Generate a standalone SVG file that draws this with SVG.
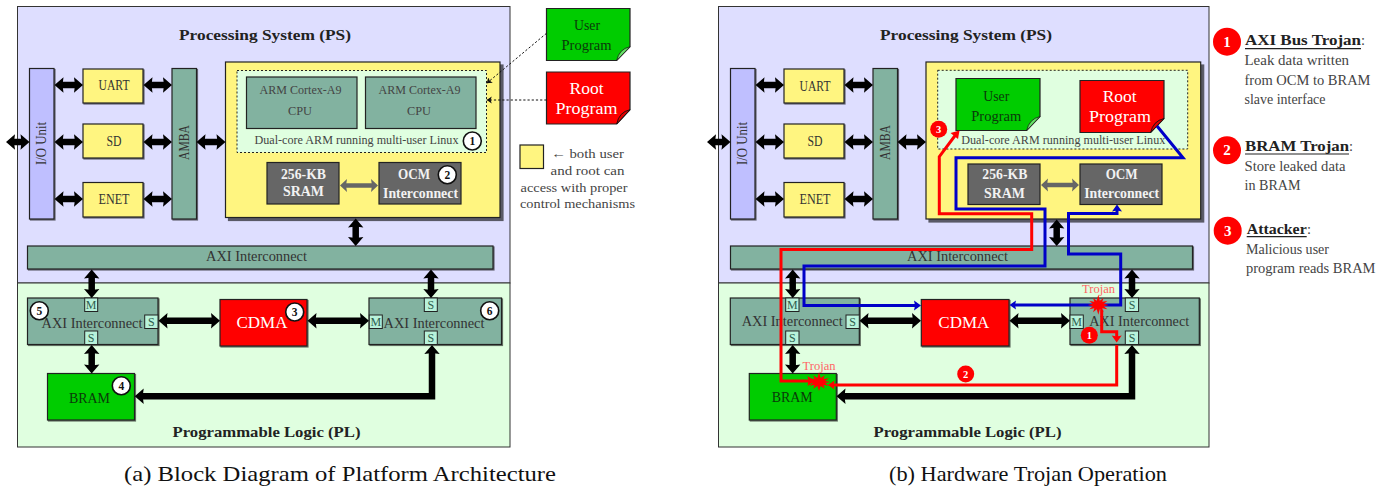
<svg xmlns="http://www.w3.org/2000/svg" xmlns:xlink="http://www.w3.org/1999/xlink" width="1388" height="489" viewBox="0 0 1388 489">
<style>
text{font-family:"Liberation Serif","DejaVu Serif",serif;fill:#333;font-size:14px;text-anchor:middle}
.h{font-weight:bold;font-size:15px;fill:#222}
.w{fill:#f2f2f2;font-weight:bold;font-size:14px}
.wl{fill:#fff;font-size:17px}
.d{fill:#0a3a0a;font-size:15.5px}
.g{font-size:13px;fill:#444}
.l{font-size:14.5px;fill:#444;text-anchor:start}
.lb{font-size:15px;font-weight:bold;fill:#222;text-anchor:start}
.cap{font-size:21.5px;fill:#111}
.tr{font-size:11.5px;fill:#ff6666}
.p{font-size:12px;fill:#2f5f4f}
.n{font-size:11.5px;font-weight:bold;fill:#111}
.rn{font-weight:bold;fill:#fff;font-size:10.5px}
.rb{font-weight:bold;fill:#fff;font-size:15px}
.ps{fill:#dedeff;stroke:#333;stroke-width:1}
.pl{fill:#e0ffe0;stroke:#333;stroke-width:1}
.sh{stroke:#222;stroke-width:1.2;filter:drop-shadow(1.7px 1.7px .5px rgba(0,0,0,.55))}
.sh4{stroke:#222;stroke-width:1.2;filter:drop-shadow(3.5px 3.5px .5px rgba(0,0,0,.6))}
.y{fill:#fff580}.t{fill:#82b2a0}.v{fill:#bfbfff}.gr{fill:#666}.gn{fill:#00cc00}.r{fill:#ff0000}
.box{stroke:#222;stroke-width:1.2}
.dash{fill:#e0ffe0;stroke:#222;stroke-width:1;stroke-dasharray:2 2}
.port{fill:#b8f2da;stroke:#222;stroke-width:1}
.badge{fill:#fff;stroke:#111;stroke-width:1.6}
.arr{fill:none;stroke:#000;stroke-width:6.5;marker-start:url(#a);marker-end:url(#a)}
.arg{fill:none;stroke:#666;stroke-width:4.5;marker-start:url(#ag);marker-end:url(#ag)}
.dot{fill:none;stroke:#111;stroke-width:1;stroke-dasharray:2.2 2;marker-end:url(#ad)}
.bl{fill:none;stroke:#0000c8;stroke-width:3}
.rd{fill:none;stroke:#ff0000;stroke-width:3}
.ulk{stroke:#222;stroke-width:1.2}
</style>
<defs>
<marker id="a" viewBox="-5 -8 11 16" refX="0" refY="0" markerWidth="11" markerHeight="16" markerUnits="userSpaceOnUse" orient="auto-start-reverse"><path d="M-4,-7.7L5,0L-4,7.7L-3,0Z" fill="#000"/></marker>
<marker id="ag" viewBox="-5 -8 11 16" refX="0" refY="0" markerWidth="11" markerHeight="16" markerUnits="userSpaceOnUse" orient="auto-start-reverse"><path d="M-3,-6.5L4,0L-3,6.5L-2,0Z" fill="#666"/></marker>
<marker id="ad" viewBox="-5 -5 10 10" refX="0" refY="0" markerWidth="10" markerHeight="10" markerUnits="userSpaceOnUse" orient="auto"><path d="M-5,-3.5L0,0L-5,3.5L-4,0Z" fill="#111"/></marker>
<marker id="mb" viewBox="-5 -6 9 12" refX="0" refY="0" markerWidth="9" markerHeight="12" markerUnits="userSpaceOnUse" orient="auto"><path d="M-3.5,-5L3.5,0L-3.5,5L-2.5,0Z" fill="#0000c8"/></marker>
<marker id="mr" viewBox="-5 -6 9 12" refX="0" refY="0" markerWidth="9" markerHeight="12" markerUnits="userSpaceOnUse" orient="auto"><path d="M-3.5,-5L3.5,0L-3.5,5L-2.5,0Z" fill="#ff0000"/></marker>
<polygon id="star" fill="#ff0000" points="11,0 5.8,1.6 9.5,5.5 4.2,4.2 5.5,9.5 1.6,5.8 0,13 -1.6,5.8 -5.5,9.5 -4.2,4.2 -9.5,5.5 -5.8,1.6 -11,0 -5.8,-1.6 -9.5,-5.5 -4.2,-4.2 -5.5,-9.5 -1.6,-5.8 0,-14 1.6,-5.8 5.5,-9.5 4.2,-4.2 9.5,-5.5 5.8,-1.6"/>
</defs>

<!-- Panel (a) -->
<g id="a-ps"><rect class="ps" x="17.5" y="6.5" width="492.5" height="276.5"/><text class="h" x="265" y="39.5" textLength="172" lengthAdjust="spacingAndGlyphs">Processing System (PS)</text></g>
<g id="a-pl"><rect class="pl" x="17.5" y="283" width="492.5" height="164"/><text class="h" x="266.5" y="436.5" textLength="188" lengthAdjust="spacingAndGlyphs">Programmable Logic (PL)</text></g>
<g id="a-io"><rect class="sh v" x="29.5" y="68.5" width="24.5" height="150.5"/><text transform="translate(45.5,143.5) rotate(-90)" textLength="43" lengthAdjust="spacingAndGlyphs">I/O Unit</text></g>
<g id="a-uart"><rect class="sh y" x="83" y="69" width="60" height="34"/><text x="114" y="90" textLength="31" lengthAdjust="spacingAndGlyphs">UART</text></g>
<g id="a-sd"><rect class="sh y" x="83" y="124" width="60" height="34"/><text x="114" y="146" textLength="15" lengthAdjust="spacingAndGlyphs">SD</text></g>
<g id="a-enet"><rect class="sh y" x="83" y="182.5" width="60" height="34.5"/><text x="114" y="204" textLength="31" lengthAdjust="spacingAndGlyphs">ENET</text></g>
<g id="a-amba"><rect class="sh t" x="172" y="68.5" width="24.5" height="150.5"/><text transform="translate(189,142.5) rotate(-90)" textLength="35" lengthAdjust="spacingAndGlyphs">AMBA</text></g>
<g id="a-apu"><rect class="sh4 y" x="225.5" y="62" width="274.5" height="155.5"/></g>
<g id="a-linux"><rect class="dash" x="237" y="70.5" width="249.5" height="82"/><text class="g" x="356.5" y="144" textLength="204" lengthAdjust="spacingAndGlyphs">Dual-core ARM running multi-user Linux</text></g>
<g id="a-cpu1"><rect class="box t" x="246.5" y="77" width="110.5" height="51.5"/><text class="g" x="300.5" y="94" textLength="82" lengthAdjust="spacingAndGlyphs">ARM Cortex-A9</text><text class="g" x="300" y="115" textLength="24" lengthAdjust="spacingAndGlyphs">CPU</text></g>
<g id="a-cpu2"><rect class="box t" x="365.5" y="77" width="110.5" height="51.5"/><text class="g" x="419.5" y="94" textLength="82" lengthAdjust="spacingAndGlyphs">ARM Cortex-A9</text><text class="g" x="419" y="115" textLength="24" lengthAdjust="spacingAndGlyphs">CPU</text></g>
<g id="a-sram"><rect class="box gr" x="267" y="162.5" width="72" height="41.5"/><text class="w" x="303.5" y="179" textLength="45" lengthAdjust="spacingAndGlyphs">256-KB</text><text class="w" x="303.5" y="195.5" textLength="41" lengthAdjust="spacingAndGlyphs">SRAM</text></g>
<g id="a-ocm"><rect class="box gr" x="379" y="162.5" width="82" height="41.5"/><text class="w" x="414" y="179" textLength="32" lengthAdjust="spacingAndGlyphs">OCM</text><text class="w" x="420.5" y="198" textLength="75" lengthAdjust="spacingAndGlyphs">Interconnect</text></g>
<g id="a-user"><path class="box gn" d="M546.5,8.5H630V46.7L616.7,60.5H546.5Z"/><path d="M616.7,60.5Q619,49 630,46.7Z" fill="#66e066" stroke="#222" stroke-width=".8"/><text class="d" x="587" y="30" textLength="26" lengthAdjust="spacingAndGlyphs">User</text><text class="d" x="586.5" y="50" textLength="50" lengthAdjust="spacingAndGlyphs">Program</text></g>
<g id="a-root"><path class="box r" d="M546.5,72H630V109.7L616.7,124H546.5Z"/><path d="M616.7,124Q619,112 630,109.7Z" fill="#e00000" stroke="#111" stroke-width=".9"/><text class="wl" x="586.5" y="94" textLength="34" lengthAdjust="spacingAndGlyphs">Root</text><text class="wl" x="586.5" y="114" textLength="62" lengthAdjust="spacingAndGlyphs">Program</text></g>
<g id="a-legend"><rect class="box y" x="520" y="145" width="23.5" height="23.5"/><text class="g" x="587.5" y="157.5" textLength="73" lengthAdjust="spacingAndGlyphs">← both user</text><text class="g" x="587.5" y="174.7" textLength="74" lengthAdjust="spacingAndGlyphs">and root can</text><text class="g" x="574" y="191.5" textLength="107" lengthAdjust="spacingAndGlyphs">access with proper</text><text class="g" x="577.5" y="208.3" textLength="115" lengthAdjust="spacingAndGlyphs">control mechanisms</text></g>
<g id="a-axi-ps"><rect class="sh t" x="27.5" y="246" width="465.5" height="23"/><text x="256.5" y="261" textLength="101" lengthAdjust="spacingAndGlyphs">AXI Interconnect</text></g>
<g id="a-axi-l"><rect class="sh t" x="27.5" y="298" width="130.5" height="46.5"/><text x="92" y="327.5" textLength="101" lengthAdjust="spacingAndGlyphs">AXI Interconnect</text><rect class="port" x="84.7" y="298" width="13" height="13.5"/><text class="p" x="91.2" y="309">M</text><rect class="port" x="144.7" y="315" width="13.3" height="13.5"/><text class="p" x="151.3" y="326">S</text><rect class="port" x="84.7" y="331" width="13" height="13.5"/><text class="p" x="91.2" y="342">S</text></g>
<g id="a-cdma"><rect class="sh r" x="220" y="299.5" width="87" height="46.5"/><text class="wl" x="262" y="327.5" textLength="51" lengthAdjust="spacingAndGlyphs">CDMA</text></g>
<g id="a-axi-r"><rect class="sh t" x="369" y="298" width="132.5" height="46.5"/><text x="434" y="327.5" textLength="101" lengthAdjust="spacingAndGlyphs">AXI Interconnect</text><rect class="port" x="369.3" y="315" width="13" height="13.5"/><text class="p" x="375.8" y="326">M</text><rect class="port" x="424.3" y="298" width="13" height="13.5"/><text class="p" x="430.8" y="309">S</text><rect class="port" x="424.3" y="331" width="13" height="13.5"/><text class="p" x="430.8" y="342">S</text></g>
<g id="a-bram"><rect class="sh gn" x="47.5" y="373.5" width="87" height="46.5"/><text class="d" x="89.5" y="403" textLength="41" lengthAdjust="spacingAndGlyphs">BRAM</text></g>

<g id="a-connectors">
<path class="arr" d="M11,142H24.5"/><path class="arr" d="M59.5,85H78"/><path class="arr" d="M59.5,142H78"/><path class="arr" d="M59.5,199H78"/>
<path class="arr" d="M148.5,85H167"/><path class="arr" d="M148.5,142H167"/><path class="arr" d="M148.5,199H167"/><path class="arr" d="M201.5,142H220.5"/>
<path class="arr" d="M355.7,223.5V241"/><path class="arr" d="M91.7,274.5V293"/><path class="arr" d="M431,274.5V293"/><path class="arr" d="M91.7,350V368.5"/>
<path class="arr" d="M163.5,320.7H215"/><path class="arr" d="M312.5,320.7H364"/>
<path class="arr" d="M139.7,396.3H432V350"/>
<path class="arg" d="M344,185.5H374"/>
<path class="dot" d="M546.5,33.3L486.7,83.3"/><path class="dot" d="M546.5,100H486.7"/>
</g>
<g id="a-badges">
<g><circle class="badge" cx="472.3" cy="141" r="9"/><text class="n" x="472.3" y="145">1</text></g>
<g><circle class="badge" cx="447.3" cy="174.7" r="9"/><text class="n" x="447.3" y="178.7">2</text></g>
<g><circle class="badge" cx="294.7" cy="312" r="9"/><text class="n" x="294.7" y="316">3</text></g>
<g><circle class="badge" cx="121.3" cy="385.7" r="9"/><text class="n" x="121.3" y="389.7">4</text></g>
<g><circle class="badge" cx="39.3" cy="310.7" r="9"/><text class="n" x="39.3" y="314.7">5</text></g>
<g><circle class="badge" cx="489.7" cy="310.7" r="9"/><text class="n" x="489.7" y="314.7">6</text></g>
</g>
<text id="cap-a" class="cap" x="340" y="481" textLength="432" lengthAdjust="spacingAndGlyphs">(a) Block Diagram of Platform Architecture</text>

<!-- Panel (b) -->
<g id="b-ps"><rect class="ps" x="718.5" y="6.5" width="490.5" height="276.5"/><text class="h" x="966" y="39.5" textLength="172" lengthAdjust="spacingAndGlyphs">Processing System (PS)</text></g>
<g id="b-pl"><rect class="pl" x="718.5" y="283" width="490.5" height="164"/><text class="h" x="967.5" y="436.5" textLength="188" lengthAdjust="spacingAndGlyphs">Programmable Logic (PL)</text></g>
<g id="b-io"><rect class="sh v" x="730.5" y="68.5" width="24.5" height="150.5"/><text transform="translate(746.5,143.5) rotate(-90)" textLength="43" lengthAdjust="spacingAndGlyphs">I/O Unit</text></g>
<g id="b-uart"><rect class="sh y" x="784" y="69" width="60" height="34"/><text x="815" y="91" textLength="31" lengthAdjust="spacingAndGlyphs">UART</text></g>
<g id="b-sd"><rect class="sh y" x="784" y="124" width="60" height="34"/><text x="815" y="146" textLength="15" lengthAdjust="spacingAndGlyphs">SD</text></g>
<g id="b-enet"><rect class="sh y" x="784" y="182.5" width="60" height="34.5"/><text x="815" y="204" textLength="31" lengthAdjust="spacingAndGlyphs">ENET</text></g>
<g id="b-amba"><rect class="sh t" x="873" y="68.5" width="24.5" height="150.5"/><text transform="translate(890,142.5) rotate(-90)" textLength="35" lengthAdjust="spacingAndGlyphs">AMBA</text></g>
<g id="b-apu"><rect class="sh4 y" x="926" y="62" width="274.7" height="157"/></g>
<g id="b-linux"><rect class="dash" x="937.7" y="70.3" width="250" height="78.7"/><text class="g" x="1063.3" y="144" textLength="204" lengthAdjust="spacingAndGlyphs">Dual-core ARM running multi-user Linux</text></g>
<g id="b-user"><path class="box gn" d="M956,78.5H1040V116.5L1026.7,130.5H956Z"/><path d="M1026.7,130.5Q1029,119 1040,116.5Z" fill="#66e066" stroke="#222" stroke-width=".8"/><text class="d" x="996.3" y="101" textLength="26" lengthAdjust="spacingAndGlyphs">User</text><text class="d" x="996.3" y="121" textLength="50" lengthAdjust="spacingAndGlyphs">Program</text></g>
<g id="b-root"><path class="box r" d="M1080,80.5H1164V118.5L1150.7,132.5H1080Z"/><path d="M1150.7,132.5Q1153,121 1164,118.5Z" fill="#e00000" stroke="#111" stroke-width=".9"/><text class="wl" x="1119.7" y="101.7" textLength="34" lengthAdjust="spacingAndGlyphs">Root</text><text class="wl" x="1120" y="121.7" textLength="62" lengthAdjust="spacingAndGlyphs">Program</text></g>
<g id="b-sram"><rect class="box gr" x="968" y="164" width="72" height="40.5"/><text class="w" x="1004.8" y="178.5" textLength="45" lengthAdjust="spacingAndGlyphs">256-KB</text><text class="w" x="1004.5" y="197.7" textLength="41" lengthAdjust="spacingAndGlyphs">SRAM</text></g>
<g id="b-ocm"><rect class="box gr" x="1080" y="164" width="82" height="40.5"/><text class="w" x="1121.7" y="179" textLength="32" lengthAdjust="spacingAndGlyphs">OCM</text><text class="w" x="1121.7" y="197.7" textLength="75" lengthAdjust="spacingAndGlyphs">Interconnect</text></g>
<g id="b-axi-ps"><rect class="sh t" x="730.5" y="246" width="462" height="23"/><text x="957.5" y="261" textLength="101" lengthAdjust="spacingAndGlyphs">AXI Interconnect</text></g>
<g id="b-axi-l"><rect class="sh t" x="730.3" y="298" width="129" height="46.5"/><text x="792.2" y="325.5" textLength="101" lengthAdjust="spacingAndGlyphs">AXI Interconnect</text><rect class="port" x="785.7" y="298" width="13.3" height="13.5"/><text class="p" x="792.3" y="309">M</text><rect class="port" x="846" y="315" width="13.3" height="13.5"/><text class="p" x="852.6" y="326">S</text><rect class="port" x="785.7" y="331" width="13.3" height="13.5"/><text class="p" x="792.3" y="342">S</text></g>
<g id="b-cdma"><rect class="sh r" x="921.3" y="299.5" width="87.7" height="46.5"/><text class="wl" x="963.8" y="327.5" textLength="51" lengthAdjust="spacingAndGlyphs">CDMA</text></g>
<g id="b-axi-r"><rect class="sh t" x="1070" y="298" width="129.3" height="46.5"/><text x="1139.2" y="325.5" textLength="100" lengthAdjust="spacingAndGlyphs">AXI Interconnect</text><rect class="port" x="1070" y="315" width="13.3" height="13.5"/><text class="p" x="1076.6" y="326">M</text><rect class="port" x="1125.3" y="298" width="13.3" height="13.5"/><text class="p" x="1132" y="309">S</text><rect class="port" x="1125.3" y="331" width="13.3" height="13.5"/><text class="p" x="1132" y="342">S</text></g>
<g id="b-bram"><rect class="sh gn" x="749.3" y="373.5" width="87" height="46.5"/><text class="d" x="792.2" y="402" textLength="41" lengthAdjust="spacingAndGlyphs">BRAM</text></g>

<g id="b-connectors">
<path class="arr" d="M712,142H725.5"/><path class="arr" d="M760.5,85H779"/><path class="arr" d="M760.5,142H779"/><path class="arr" d="M760.5,199H779"/>
<path class="arr" d="M849.5,85H868"/><path class="arr" d="M849.5,142H868"/><path class="arr" d="M849.5,199H868"/><path class="arr" d="M902.5,142H921"/>
<path class="arr" d="M1056.7,224.5V241"/><path class="arr" d="M792.7,274.5V293"/><path class="arr" d="M1132,274.5V293"/><path class="arr" d="M792.7,350V368.5"/>
<path class="arr" d="M864.5,320.7H916"/><path class="arr" d="M1014.5,320.7H1065"/>
<path class="arr" d="M841.5,396.3H1132V350"/>
<path class="arg" d="M1045,185H1075"/>
<path class="bl" d="M1157,126L1183,157.7H956V209H1045V266H804V305.5H917.5" marker-end="url(#mb)"/>
<path class="bl" d="M1013,305H1120.7V254H1068.5V213.5H1117V208" marker-end="url(#mb)"/>
<path d="M1009.5,305L1016,300.5L1015,305L1016,309.5Z" fill="#0000c8"/>
<path class="rd" d="M957,133L939.3,156.7V213.7H1031.7V249.5H781V381H811" marker-end="url(#mr)"/>
<path d="M959.5,130.5L958,139L950.5,133Z" fill="#ff0000"/>
<path class="rd" d="M1116.7,345V385H832"/>
<path d="M828,385L834.5,380.5L833.5,385L834.5,389.5Z" fill="#ff0000"/>
<path class="rd" d="M1101.7,310V331.7H1116.7V339" marker-end="url(#mr)"/>
</g>
<g id="b-trojans">
<g id="trojan-axi"><use xlink:href="#star" href="#star" transform="translate(1098.3,305) scale(.95,.75)"/><text class="tr" x="1098.5" y="293" textLength="33" lengthAdjust="spacingAndGlyphs">Trojan</text></g>
<g id="trojan-bram"><use xlink:href="#star" href="#star" transform="translate(819,382) scale(1.05,.7)"/><text class="tr" x="819" y="370" textLength="33" lengthAdjust="spacingAndGlyphs">Trojan</text></g>
</g>
<g id="b-badges">
<g><circle class="r" cx="1089.3" cy="335.3" r="8.5"/><text class="rn" x="1089.3" y="339">1</text></g>
<g><circle class="r" cx="965.7" cy="374" r="8.5"/><text class="rn" x="965.7" y="377.7">2</text></g>
<g><circle class="r" cx="938.7" cy="129.3" r="8.5"/><text class="rn" x="938.7" y="133">3</text></g>
</g>
<text id="cap-b" class="cap" x="1028" y="481" textLength="278" lengthAdjust="spacingAndGlyphs">(b) Hardware Trojan Operation</text>

<!-- Key -->
<g id="key-1"><circle class="r" cx="1227" cy="41.7" r="14"/><text class="rb" x="1227" y="46.8">1</text><text class="lb" x="1245" y="45" textLength="116" lengthAdjust="spacingAndGlyphs">AXI Bus Trojan</text><text class="l" x="1361" y="45">:</text><line class="ulk" x1="1245" y1="48.7" x2="1361" y2="48.7"/><text class="l" x="1244.5" y="65" textLength="104.5" lengthAdjust="spacingAndGlyphs">Leak data written</text><text class="l" x="1244.5" y="85" textLength="126" lengthAdjust="spacingAndGlyphs">from OCM to BRAM</text><text class="l" x="1244.5" y="104" textLength="81" lengthAdjust="spacingAndGlyphs">slave interface</text></g>
<g id="key-2"><circle class="r" cx="1227" cy="150.3" r="14"/><text class="rb" x="1227" y="155.4">2</text><text class="lb" x="1245" y="151" textLength="104" lengthAdjust="spacingAndGlyphs">BRAM Trojan</text><text class="l" x="1349" y="151">:</text><line class="ulk" x1="1245" y1="154" x2="1349" y2="154"/><text class="l" x="1244.5" y="171" textLength="101" lengthAdjust="spacingAndGlyphs">Store leaked data</text><text class="l" x="1244.5" y="190" textLength="56" lengthAdjust="spacingAndGlyphs">in BRAM</text></g>
<g id="key-3"><circle class="r" cx="1227.7" cy="230.7" r="14"/><text class="rb" x="1227.7" y="235.8">3</text><text class="lb" x="1246.7" y="234" textLength="60" lengthAdjust="spacingAndGlyphs">Attacker</text><text class="l" x="1307" y="234">:</text><line class="ulk" x1="1246.7" y1="236.7" x2="1306.7" y2="236.7"/><text class="l" x="1246" y="254" textLength="83" lengthAdjust="spacingAndGlyphs">Malicious user</text><text class="l" x="1246" y="273.3" textLength="129.5" lengthAdjust="spacingAndGlyphs">program reads BRAM</text></g>
</svg>
